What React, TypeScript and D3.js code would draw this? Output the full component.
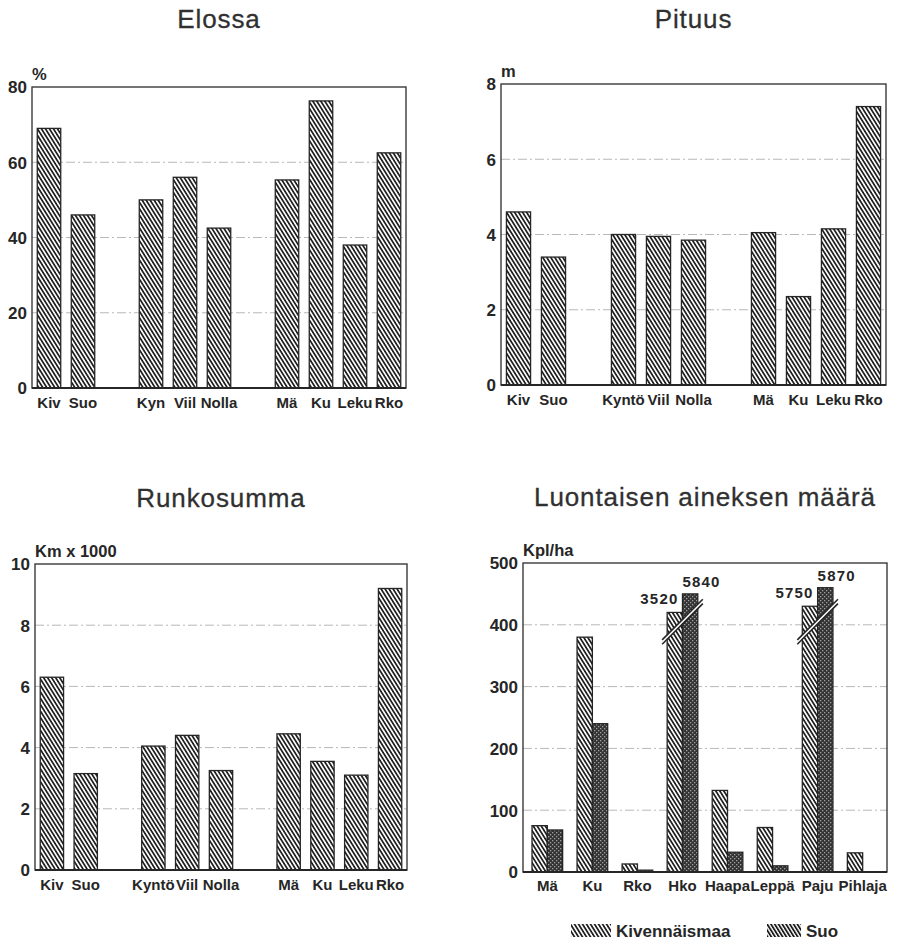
import React from "react";
import * as d3 from "d3";

// Groups of categories for the three single-series panels
const standGroups = [["Kiv", "Suo"], ["Kyn", "Viil", "Nolla"], ["Mä", "Ku", "Leku", "Rko"]];
const standGroupsLong = [["Kiv", "Suo"], ["Kyntö", "Viil", "Nolla"], ["Mä", "Ku", "Leku", "Rko"]];

// Elossa (%)
const elossaValues = [69, 46, 50, 56, 42.5, 55.3, 76.3, 38, 62.5];
const elossaTicks = [0, 20, 40, 60, 80];

// Pituus (m)
const pituusValues = [4.6, 3.4, 4.0, 3.95, 3.85, 4.05, 2.35, 4.15, 7.4];
const pituusTicks = [0, 2, 4, 6, 8];

// Runkosumma (km x 1000)
const runkoValues = [6.3, 3.15, 4.05, 4.4, 3.25, 4.45, 3.55, 3.1, 9.2];
const runkoTicks = [0, 2, 4, 6, 8, 10];

// Luontaisen aineksen määrä (kpl/ha)
const speciesCats = ["Mä", "Ku", "Rko", "Hko", "Haapa", "Leppä", "Paju", "Pihlaja"];
const kivValues = [75, 380, 13, 3520, 132, 72, 5750, 31];
const suoValues = [68, 240, 3, 5840, 32, 10, 5870, 0];
const luontTicks = [0, 100, 200, 300, 400, 500];
// Displayed heights for bars that run past the axis (drawn with a break mark)
const brokenCats = ["Hko", "Paju"];
const brokenKivTop = [420, 430];
const brokenSuoTop = [450, 460];
const breakAt = 405;

const seriesNames = ["Kivennäismaa", "Suo"];

const FONT = "'Liberation Sans', Arial, Helvetica, sans-serif";
const INK = "#262626";

type Box = { x0: number; x1: number; y0: number; y1: number };

function Frame({ box, ticks, y, unit }: { box: Box; ticks: number[]; y: d3.ScaleLinear<number, number>; unit: string }) {
  const max = ticks[ticks.length - 1];
  return (
    <g>
      {ticks
        .filter((t) => t > 0 && t < max)
        .map((t) => (
          <line
            key={"g" + t}
            x1={box.x0}
            x2={box.x1}
            y1={y(t)}
            y2={y(t)}
            stroke="#b8b8b8"
            strokeWidth={1}
            strokeDasharray="9 3 2 3"
          />
        ))}
      {ticks.map((t) => (
        <text
          key={"t" + t}
          x={box.x0 - 5}
          y={y(t) + 2}
          textAnchor="end"
          dominantBaseline="middle"
          fontFamily={FONT}
          fontWeight="bold"
          fontSize={17}
          fill={INK}
        >
          {t}
        </text>
      ))}
      <text x={box.x0} y={box.y0 - 7} fontFamily={FONT} fontWeight="bold" fontSize={16.5} fill={INK}>
        {unit}
      </text>
    </g>
  );
}

function BoxOutline({ box }: { box: Box }) {
  return (
    <g>
      <rect
        x={box.x0}
        y={box.y0}
        width={box.x1 - box.x0}
        height={box.y1 - box.y0}
        fill="none"
        stroke="#3a3a3a"
        strokeWidth={1.4}
      />
      <line x1={box.x0} x2={box.x1} y1={box.y1} y2={box.y1} stroke={INK} strokeWidth={2} />
    </g>
  );
}

function StandPanel({
  title,
  box,
  groups,
  values,
  ticks,
  unit,
  titleY,
}: {
  title: string;
  box: Box;
  groups: string[][];
  values: number[];
  ticks: number[];
  unit: string;
  titleY: number;
}) {
  // Slots: categories with one empty slot between groups
  const slots: string[] = [];
  groups.forEach((g, gi) => {
    if (gi > 0) slots.push("__gap" + gi);
    g.forEach((c) => slots.push(c));
  });
  const cats = groups.flat();
  const x = d3.scaleBand<string>().domain(slots).range([box.x0, box.x1]).paddingInner(0.31).paddingOuter(0.155);
  const y = d3.scaleLinear().domain([0, ticks[ticks.length - 1]]).range([box.y1, box.y0]);
  return (
    <g>
      <text
        x={(box.x0 + box.x1) / 2}
        y={titleY}
        textAnchor="middle"
        fontFamily={FONT}
        fontSize={26}
        letterSpacing={0.9}
        fill="#303030"
        stroke="#303030"
        strokeWidth={0.3}
      >
        {title}
      </text>
      <Frame box={box} ticks={ticks} y={y} unit={unit} />
      {cats.map((c, i) => (
        <rect
          key={c}
          x={x(c)!}
          y={y(values[i])}
          width={x.bandwidth()}
          height={y(0) - y(values[i])}
          fill="url(#hatch)"
          stroke={INK}
          strokeWidth={1.3}
        />
      ))}
      <BoxOutline box={box} />
      {cats.map((c) => (
        <text
          key={"l" + c}
          x={x(c)! + x.bandwidth() / 2}
          y={box.y1 + 20}
          textAnchor="middle"
          fontFamily={FONT}
          fontWeight="bold"
          fontSize={15}
          fill={INK}
        >
          {c}
        </text>
      ))}
    </g>
  );
}

function SpeciesPanel({ box, titleY }: { box: Box; titleY: number }) {
  const x = d3.scaleBand<string>().domain(speciesCats).range([box.x0, box.x1]).paddingInner(0.32).paddingOuter(0.2);
  const xs = d3.scaleBand<string>().domain(seriesNames).range([0, x.bandwidth()]);
  const max = luontTicks[luontTicks.length - 1];
  const y = d3.scaleLinear().domain([0, max]).range([box.y1, box.y0]);
  const shown = (cat: string, v: number, tops: number[]) => {
    const bi = brokenCats.indexOf(cat);
    return v > max && bi >= 0 ? tops[bi] : v;
  };
  return (
    <g>
      <text
        x={(box.x0 + box.x1) / 2}
        y={titleY}
        textAnchor="middle"
        fontFamily={FONT}
        fontSize={26}
        letterSpacing={0.9}
        fill="#303030"
        stroke="#303030"
        strokeWidth={0.3}
      >
        Luontaisen aineksen määrä
      </text>
      <Frame box={box} ticks={luontTicks} y={y} unit="Kpl/ha" />
      {speciesCats.map((c, i) => {
        const kv = shown(c, kivValues[i], brokenKivTop);
        const sv = shown(c, suoValues[i], brokenSuoTop);
        const x0 = x(c)!;
        return (
          <g key={c}>
            {kv > 0 && (
              <rect
                x={x0 + xs("Kivennäismaa")!}
                y={y(kv)}
                width={xs.bandwidth()}
                height={y(0) - y(kv)}
                fill="url(#hatch)"
                stroke={INK}
                strokeWidth={1.3}
              />
            )}
            {sv > 0 && (
              <rect
                x={x0 + xs("Suo")!}
                y={y(sv)}
                width={xs.bandwidth()}
                height={y(0) - y(sv)}
                fill="url(#stipple)"
                stroke={INK}
                strokeWidth={1.3}
              />
            )}
          </g>
        );
      })}
      {brokenCats.map((c) => {
        const i = speciesCats.indexOf(c);
        const x0 = x(c)!;
        const x1 = x0 + x.bandwidth();
        const cx = (x0 + x1) / 2;
        const cy = y(breakAt);
        const half = (x1 - x0) / 2 + 5;
        const slope = 1.0;
        const gap = 2.2;
        const la = [cx - half, cy + half * slope];
        const lb = [cx + half, cy - half * slope];
        const band = `M${la[0]},${la[1] - gap} L${lb[0]},${lb[1] - gap} L${lb[0]},${lb[1] + gap} L${la[0]},${la[1] + gap} Z`;
        const kTop = y(shown(c, kivValues[i], brokenKivTop));
        const sTop = y(shown(c, suoValues[i], brokenSuoTop));
        return (
          <g key={"b" + c}>
            <path d={band} fill="#fff" />
            <line x1={la[0]} y1={la[1] - gap} x2={lb[0]} y2={lb[1] - gap} stroke={INK} strokeWidth={1.6} />
            <line x1={la[0]} y1={la[1] + gap} x2={lb[0]} y2={lb[1] + gap} stroke={INK} strokeWidth={1.6} />
            <text
              x={x0 + xs.bandwidth() - 4}
              y={kTop - 8}
              textAnchor="end"
              fontFamily={FONT}
              fontWeight="bold"
              fontSize={15}
              letterSpacing={1.2}
              fill={INK}
            >
              {kivValues[i]}
            </text>
            <text
              x={x0 + xs("Suo")!}
              y={sTop - 7}
              textAnchor="start"
              fontFamily={FONT}
              fontWeight="bold"
              fontSize={15}
              letterSpacing={1.2}
              fill={INK}
            >
              {suoValues[i]}
            </text>
          </g>
        );
      })}
      <BoxOutline box={box} />
      {speciesCats.map((c) => (
        <text
          key={"l" + c}
          x={x(c)! + x.bandwidth() / 2}
          y={box.y1 + 19}
          textAnchor="middle"
          fontFamily={FONT}
          fontWeight="bold"
          fontSize={15}
          fill={INK}
        >
          {c}
        </text>
      ))}
    </g>
  );
}

function Legend() {
  const items = [
    { name: seriesNames[0], x: 571, w: 40, fill: "url(#hatch)" },
    { name: seriesNames[1], x: 767, w: 34, fill: "url(#hatchDense)" },
  ];
  return (
    <g>
      {items.map((it) => (
        <g key={it.name}>
          <rect x={it.x} y={924} width={it.w} height={13} fill={it.fill} />
          <text x={it.x + it.w + 5} y={937} fontFamily={FONT} fontWeight="bold" fontSize={17} fill={INK}>
            {it.name}
          </text>
        </g>
      ))}
    </g>
  );
}

export default function App() {
  return (
    <svg width={897} height={944} style={{ display: "block", position: "absolute", left: 0, top: 0 }}>
      <defs>
        <pattern id="hatch" patternUnits="userSpaceOnUse" width={3.4} height={3.4} patternTransform="rotate(-32)">
          <rect width={3.4} height={3.4} fill="#fff" />
          <line x1={0.9} y1={0} x2={0.9} y2={3.4} stroke="#1a1a1a" strokeWidth={1.7} />
        </pattern>
        <pattern id="hatchDense" patternUnits="userSpaceOnUse" width={3.2} height={3.2} patternTransform="rotate(-32)">
          <rect width={3.2} height={3.2} fill="#fff" />
          <line x1={0.9} y1={0} x2={0.9} y2={3.2} stroke="#1a1a1a" strokeWidth={1.8} />
        </pattern>
        <pattern id="stipple" patternUnits="userSpaceOnUse" width={4} height={4}>
          <rect width={4} height={4} fill="#333" />
          <rect x={0} y={0} width={1.3} height={1.3} fill="#a0a0a0" />
          <rect x={2} y={2} width={1.3} height={1.3} fill="#a0a0a0" />
        </pattern>
      </defs>
      <rect width={897} height={944} fill="#fff" />
      <StandPanel
        title="Elossa"
        box={{ x0: 32, x1: 406, y0: 87, y1: 388 }}
        groups={standGroups}
        values={elossaValues}
        ticks={elossaTicks}
        unit="%"
        titleY={28}
      />
      <StandPanel
        title="Pituus"
        box={{ x0: 501, x1: 886, y0: 84, y1: 385 }}
        groups={standGroupsLong}
        values={pituusValues}
        ticks={pituusTicks}
        unit="m"
        titleY={28}
      />
      <StandPanel
        title="Runkosumma"
        box={{ x0: 35, x1: 407, y0: 564, y1: 870 }}
        groups={standGroupsLong}
        values={runkoValues}
        ticks={runkoTicks}
        unit="Km x 1000"
        titleY={507}
      />
      <SpeciesPanel box={{ x0: 523, x1: 887, y0: 563, y1: 872 }} titleY={506} />
      <Legend />
    </svg>
  );
}
